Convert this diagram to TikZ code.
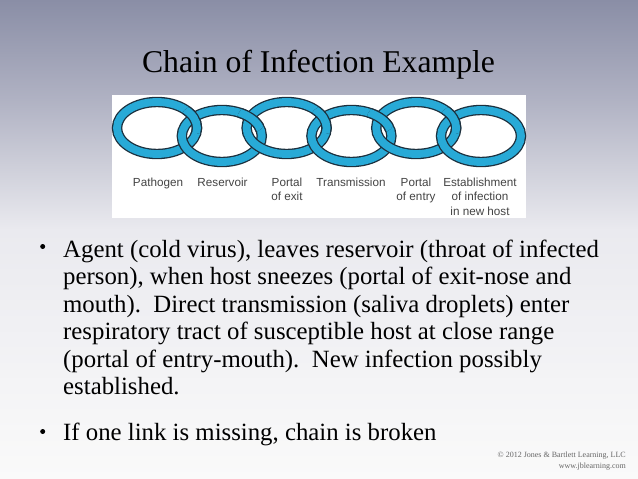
\documentclass[tikz,border=0pt]{standalone}
\usepackage{fontspec}
\setmainfont{Liberation Serif}
\newfontfamily\labelfont{Liberation Sans}
\definecolor{bgA}{RGB}{138,142,166}
\definecolor{bgB}{RGB}{176,178,195}
\definecolor{bgC}{RGB}{234,234,239}
\definecolor{bgD}{RGB}{250,250,250}
\definecolor{ringblue}{RGB}{40,170,215}
\definecolor{ringdark}{RGB}{28,48,62}
\definecolor{lblgray}{RGB}{68,68,68}
\pgfdeclareverticalshading{slidebg}{100bp}{color(0bp)=(bgD); color(25bp)=(bgD); color(51bp)=(bgC); color(64.6bp)=(bgB); color(75bp)=(bgA); color(100bp)=(bgA)}
\tikzset{
  ringedge/.style={draw=ringdark, line width=10.4pt},
  ringband/.style={draw=ringblue, line width=7.8pt},
  lbl/.style={font=\labelfont\fontsize{11.7}{14}\selectfont, text=lblgray, anchor=base, inner sep=0pt},
  bodyline/.style={font=\fontsize{24.8}{28}\selectfont, anchor=base west, inner sep=0pt},
  bulletdot/.style={circle, fill=black, inner sep=0pt, minimum size=5pt},
  credit/.style={font=\fontsize{8}{9}\selectfont, text=black!60, anchor=base east, inner sep=0pt}
}
\newcommand\drawring[1]{%
  \draw[ringedge] (#1) ellipse[x radius=40, y radius=26];
  \draw[ringband] (#1) ellipse[x radius=40, y radius=26];}
\begin{document}
\begin{tikzpicture}[x=1pt,y=-1pt]
\useasboundingbox (0,0) rectangle (638,479);
\shade[shading=slidebg] (0,0) rectangle (638,479);
\node[inner sep=0pt, font=\fontsize{31.7}{38}\selectfont, anchor=base] (title) at (318.5,72) {Chain of Infection Example};
\fill[white] (112,95) rectangle (526,218);
% ring centres
\coordinate (c1) at (157,128);
\coordinate (c2) at (221.8,136);
\coordinate (c3) at (286.6,128);
\coordinate (c4) at (351.4,136);
\coordinate (c5) at (416.2,128);
\coordinate (c6) at (481,136);
\foreach \c in {c1,c2,c3,c4,c5,c6} {\drawring{\c}}
% interlocking: left ring over right ring at the top crossing
\foreach \c/\dx/\dy in {c1/37.4/-8, c2/29.5/-17, c3/37.4/-8, c4/29.5/-17, c5/37.4/-8} {
  \begin{scope}
    \clip ([shift={(\dx,\dy)}]\c) circle[radius=14];
    \drawring{\c}
  \end{scope}
}
% labels
\node[lbl] (pathogen) at (158,186) {Pathogen};
\node[lbl] (reservoir) at (222.5,186) {Reservoir};
\node[lbl] (exitA) at (287,186) {Portal};
\node[lbl] (exitB) at (287,200.5) {of exit};
\node[lbl] (transmission) at (351,186) {Transmission};
\node[lbl] (entryA) at (416,186) {Portal};
\node[lbl] (entryB) at (416,200.5) {of entry};
\node[lbl] (estA) at (480,186) {Establishment};
\node[lbl] (estB) at (480,200.5) {of infection};
\node[lbl] (estC) at (480,215) {in new host};
% bullets
\node[bulletdot] (b1) at (42.7,246.5) {};
\node[bodyline] (l1) at (63,257) {Agent (cold virus), leaves reservoir (throat of infected};
\node[bodyline] (l2) at (63,284.5) {person), when host sneezes (portal of exit-nose and};
\node[bodyline] (l3) at (63,312) {mouth).\ \ Direct transmission (saliva droplets) enter};
\node[bodyline] (l4) at (63,339.5) {respiratory tract of susceptible host at close range};
\node[bodyline] (l5) at (63,367) {(portal of entry-mouth).\ \ New infection possibly};
\node[bodyline] (l6) at (63,394.5) {established.};
\node[bulletdot] (b2) at (42.7,431.5) {};
\node[bodyline] (l7) at (63,440.5) {If one link is missing, chain is broken};
% credit
\node[credit] (cr1) at (626,457) {© 2012 Jones \& Bartlett Learning, LLC};
\node[credit] (cr2) at (626,468) {www.jblearning.com};
\end{tikzpicture}
\end{document}
